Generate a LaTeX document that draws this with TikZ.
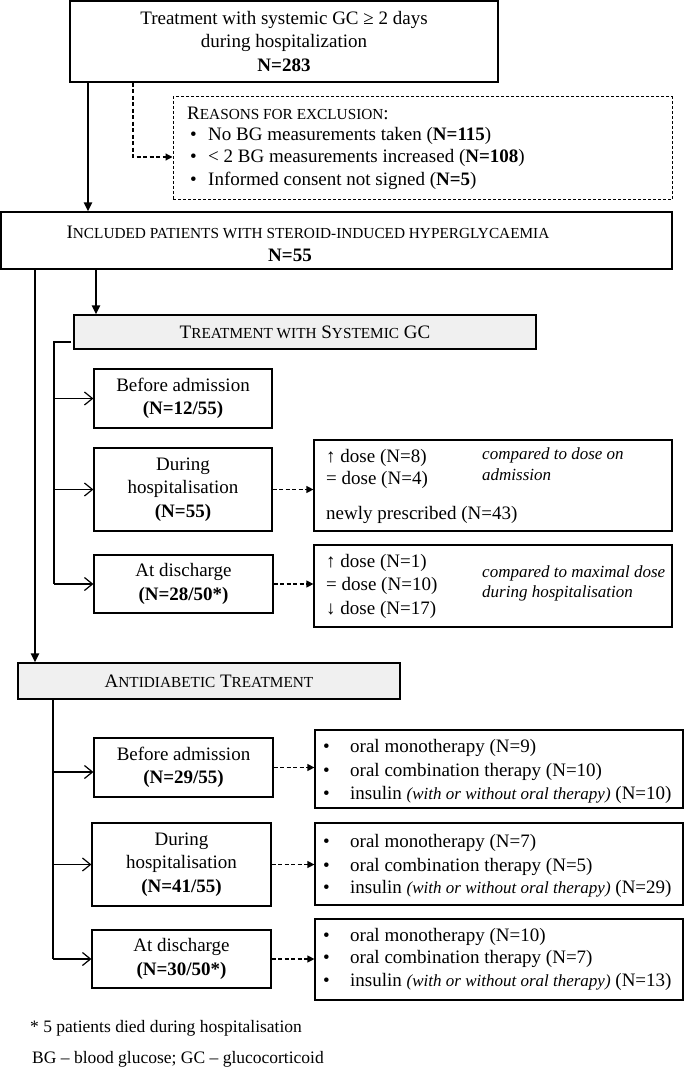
\documentclass[tikz,border=0pt]{standalone}
\usepackage{fontspec}
\setmainfont{Liberation Serif}
\usetikzlibrary{arrows.meta,calc}
\newcommand\fsc[1]{{\fontsize{15.3}{15}\selectfont #1}}
\begin{document}
\begin{tikzpicture}[x=1pt,y=-1pt,
 box/.style={draw, line width=1.2pt, inner sep=0pt, align=center, font=\fontsize{19}{23.5}\selectfont},
 hdr/.style={box, fill=gray!12},
 txt/.style={inner sep=0pt, anchor=west, font=\fontsize{19}{23}\selectfont},
 ctxt/.style={inner sep=0pt, font=\fontsize{19}{23}\selectfont},
 note/.style={inner sep=0pt, anchor=west, font=\fontsize{17}{20}\selectfont\itshape},
 foot/.style={inner sep=0pt, anchor=west, font=\fontsize{17.5}{20}\selectfont},
 mainarr/.style={line width=2pt, -{Triangle[length=9pt,width=8pt]}},
 brkline/.style={line width=1.2pt},
 brk/.style={line width=1.2pt, -{Straight Barb[length=8pt,width=13pt]}},
 dsh/.style={line width=1.2pt, dash pattern=on 4pt off 2.5pt, -{Triangle[length=7pt,width=7pt]}},
]
\useasboundingbox (0,0) rectangle (685,1067);

% top
\node[box, minimum width=428pt, minimum height=81pt] (top) at (284,41.5)
  {Treatment with systemic GC ≥ 2 days\\during hospitalization\\\textbf{N=283}};

% exclusion
\node[draw, line width=1pt, dash pattern=on 3pt off 2pt, inner sep=0pt,
      minimum width=499pt, minimum height=103pt] (excl) at (422.5,148.5) {};
\node[txt] (exh) at (187,113) {R\fsc{EASONS FOR EXCLUSION}:};
\node[txt] (eb1) at (190,136) {•};
\node[txt] (et1) at (208,136) {No BG measurements taken (\textbf{N=115})};
\node[txt] (eb2) at (190,158) {•};
\node[txt] (et2) at (208,158) {< 2 BG measurements increased (\textbf{N=108})};
\node[txt] (eb3) at (190,181) {•};
\node[txt] (et3) at (208,181) {Informed consent not signed (\textbf{N=5})};

% included
\node[box, minimum width=671pt, minimum height=57pt] (incl) at (336.5,240.5) {};
\node[ctxt] (inclt) at (308,232) {I\fsc{NCLUDED PATIENTS WITH STEROID-INDUCED HYPERGLYCAEMIA}};
\node[ctxt] (incln) at (290,255) {\textbf{N=55}};

% GC section
\node[hdr, minimum width=462pt, minimum height=34pt] (gch) at (305,332)
  {T\fsc{REATMENT WITH} S\fsc{YSTEMIC} GC};
\node[box, minimum width=178pt, minimum height=59pt] (b1) at (183,398.5)
  {Before admission\\\textbf{(N=12/55)}};
\node[box, minimum width=178pt, minimum height=83pt] (b2) at (183,489.5)
  {During\\hospitalisation\\\textbf{(N=55)}};
\node[box, minimum width=179pt, minimum height=58pt] (b3) at (183.5,584)
  {At discharge\\\textbf{(N=28/50*)}};

\node[box, minimum width=358pt, minimum height=91pt] (r2) at (493,485.5) {};
\node[txt] (r2a) at (326,458) {↑ dose (N=8)};
\node[txt] (r2b) at (326,480) {= dose (N=4)};
\node[txt] (r2c) at (326,515) {newly prescribed (N=43)};
\node[note] (r2n1) at (482,455) {compared to dose on};
\node[note] (r2n2) at (482,475) {admission};

\node[box, minimum width=358pt, minimum height=82pt] (r3) at (493,586) {};
\node[txt] (r3a) at (326,563) {↑ dose (N=1)};
\node[txt] (r3b) at (326,586) {= dose (N=10)};
\node[txt] (r3c) at (326,610) {↓ dose (N=17)};
\node[note] (r3n1) at (482,573) {compared to maximal dose};
\node[note] (r3n2) at (482,593) {during hospitalisation};

% antidiabetic section
\node[hdr, minimum width=382pt, minimum height=36pt] (adh) at (209,681)
  {A\fsc{NTIDIABETIC} T\fsc{REATMENT}};
\node[box, minimum width=179pt, minimum height=59pt] (c1) at (183.5,767.5)
  {Before admission\\\textbf{(N=29/55)}};
\node[box, minimum width=179pt, minimum height=83pt] (c2) at (181.5,864.5)
  {During\\hospitalisation\\\textbf{(N=41/55)}};
\node[box, minimum width=179pt, minimum height=58pt] (c3) at (181.5,959)
  {At discharge\\\textbf{(N=30/50*)}};

\node[box, minimum width=368pt, minimum height=78pt] (d1) at (499,769) {};
\node[txt] (d1b1) at (323,748) {•};
\node[txt] (d1t1) at (350,748) {oral monotherapy (N=9)};
\node[txt] (d1b2) at (323,772) {•};
\node[txt] (d1t2) at (350,772) {oral combination therapy (N=10)};
\node[txt] (d1b3) at (323,795) {•};
\node[txt] (d1t3) at (350,795) {insulin {\fontsize{17}{20}\selectfont\itshape (with or without oral therapy)} (N=10)};

\node[box, minimum width=368pt, minimum height=82pt] (d2) at (499,864) {};
\node[txt] (d2b1) at (323,843) {•};
\node[txt] (d2t1) at (350,843) {oral monotherapy (N=7)};
\node[txt] (d2b2) at (323,867) {•};
\node[txt] (d2t2) at (350,867) {oral combination therapy (N=5)};
\node[txt] (d2b3) at (323,889) {•};
\node[txt] (d2t3) at (350,889) {insulin {\fontsize{17}{20}\selectfont\itshape (with or without oral therapy)} (N=29)};

\node[box, minimum width=368pt, minimum height=81pt] (d3) at (499,959.5) {};
\node[txt] (d3b1) at (323,937) {•};
\node[txt] (d3t1) at (350,937) {oral monotherapy (N=10)};
\node[txt] (d3b2) at (323,959) {•};
\node[txt] (d3t2) at (350,959) {oral combination therapy (N=7)};
\node[txt] (d3b3) at (323,982) {•};
\node[txt] (d3t3) at (350,982) {insulin {\fontsize{17}{20}\selectfont\itshape (with or without oral therapy)} (N=13)};

% footnotes
\node[foot] (fn1) at (30,1028) {* 5 patients died during hospitalisation};
\node[foot] (fn2) at (32,1059) {BG – blood glucose; GC – glucocorticoid};

% connectors
\coordinate (m1) at (88,0);
\coordinate (m2) at (96,0);
\coordinate (m3) at (35,0);
\coordinate (dx) at (133,157);
\draw[mainarr] (top.south -| m1) -- (incl.north -| m1);
\draw[dsh] (top.south -| dx) |- (excl.west |- dx);
\draw[mainarr] (incl.south -| m2) -- (gch.north -| m2);
\draw[mainarr] (incl.south -| m3) -- (adh.north -| m3);

\coordinate (k1) at (71,342);
\coordinate (k1b) at (54,584);
\draw[brkline] (k1) -| (k1b);
\draw[brk] (b1.west -| k1b) -- (b1.west);
\draw[brk] (b2.west -| k1b) -- (b2.west);
\draw[brk] (b3.west -| k1b) -- (b3.west);
\draw[dsh] (b2.east) -- (b2.east -| r2.west);
\draw[dsh] (b3.east) -- (b3.east -| r3.west);

\coordinate (k2) at (53,959);
\coordinate (k2a) at (53,772);
\draw[brkline] (adh.south -| k2) -- (k2);
\draw[brk] (k2a) -- (c1.west |- k2a);
\draw[brk] (c2.west -| k2) -- (c2.west);
\draw[brk] (c3.west -| k2) -- (c3.west);
\draw[dsh] (c1.east) -- (c1.east -| d1.west);
\draw[dsh] (c2.east) -- (c2.east -| d2.west);
\draw[dsh] (c3.east) -- (c3.east -| d3.west);
\end{tikzpicture}
\end{document}
